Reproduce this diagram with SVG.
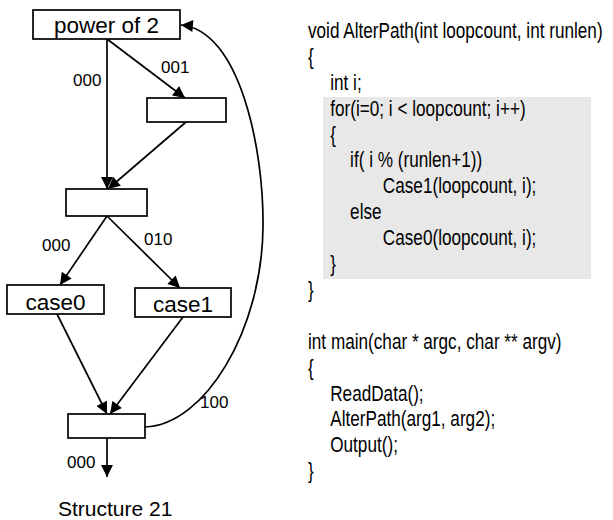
<svg xmlns="http://www.w3.org/2000/svg" width="613" height="520" viewBox="0 0 613 520">
<style>
.box{fill:#fff;stroke:#000;stroke-width:1.7}
.lbl{font-family:"Liberation Sans",Arial,sans-serif;font-size:22.5px;fill:#000;text-anchor:middle}
.edge{fill:none;stroke:#000;stroke-width:1.7;marker-end:url(#arr)}
.el{font-family:"Liberation Sans",Arial,sans-serif;font-size:17px;fill:#000}
.code{font-family:"Liberation Sans",Arial,sans-serif;font-size:22px;fill:#000}
</style>
<defs>
<marker id="arr" viewBox="0 0 10 10" refX="10" refY="5" markerWidth="8" markerHeight="7" orient="auto" markerUnits="strokeWidth">
<path d="M0,0 L10,5 L0,10 Z" fill="#000"/>
</marker>
</defs>
<rect width="613" height="520" fill="#fff"/>
<g id="connectors">
<path class="edge" d="M107,39 L107,189"/>
<path class="edge" d="M107,39 L185,98"/>
<path class="edge" d="M186,122 L108,189"/>
<path class="edge" d="M107,216 L60,285"/>
<path class="edge" d="M107,216 L180,288"/>
<path class="edge" d="M57,314 L107,414"/>
<path class="edge" d="M183,317 L110,414"/>
<path class="edge" d="M107,438 L107,477"/>
<path class="edge" d="M145,427 C205,425 262,330 263,227 C264,150 240,30 181,25"/>
<text class="el" x="73" y="86">000</text>
<text class="el" x="161" y="73">001</text>
<text class="el" x="42" y="251">000</text>
<text class="el" x="144" y="245">010</text>
<text class="el" x="200" y="408">100</text>
<text class="el" x="67" y="468">000</text>
</g>
<g id="n-power"><rect class="box" x="33" y="10" width="147" height="29"/><text class="lbl" x="106.5" y="33">power of 2</text></g>
<g id="n-right"><rect class="box" x="147" y="98" width="79" height="24"/></g>
<g id="n-mid"><rect class="box" x="66" y="189" width="81" height="27"/></g>
<g id="n-case0"><rect class="box" x="7" y="285" width="97" height="29"/><text class="lbl" x="55.5" y="310">case0</text></g>
<g id="n-case1"><rect class="box" x="135" y="288" width="96" height="29"/><text class="lbl" x="183" y="312">case1</text></g>
<g id="n-bottom"><rect class="box" x="68" y="414" width="77" height="24"/></g>
<text id="caption" x="58" y="516" font-family="Liberation Sans, Arial, sans-serif" font-size="21">Structure 21</text>
<g id="code">
<rect x="323" y="97" width="268" height="182" fill="#e8e8e8"/>
<g transform="translate(308,0) scale(0.78,1)" class="code">
<text x="0" y="38">void AlterPath(int loopcount, int runlen)</text>
<text x="0" y="63.9">{</text>
<text x="28.5" y="89.8">int i;</text>
<text x="28.5" y="115.7">for(i=0; i &lt; loopcount; i++)</text>
<text x="28.5" y="141.6">{</text>
<text x="54" y="167.5">if( i % (runlen+1))</text>
<text x="96" y="193.4">Case1(loopcount, i);</text>
<text x="54" y="219.3">else</text>
<text x="96" y="245.2">Case0(loopcount, i);</text>
<text x="28.5" y="271.1">}</text>
<text x="0" y="297">}</text>
<text x="0" y="348.8">int main(char * argc, char ** argv)</text>
<text x="0" y="374.7">{</text>
<text x="28.5" y="400.6">ReadData();</text>
<text x="28.5" y="426.5">AlterPath(arg1, arg2);</text>
<text x="28.5" y="452.4">Output();</text>
<text x="0" y="478.3">}</text>
</g>
</g>
</svg>
